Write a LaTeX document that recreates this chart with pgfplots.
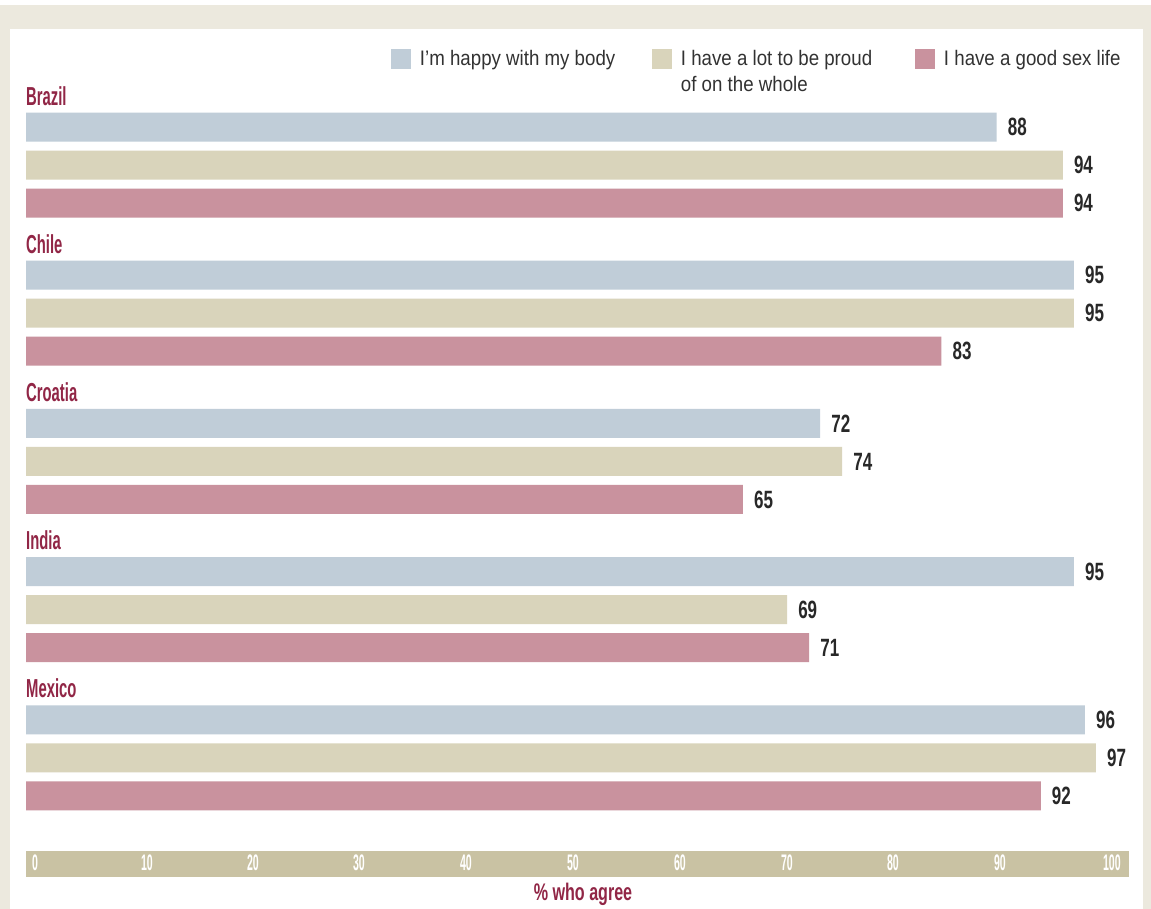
\documentclass[border=0pt]{standalone}
\usepackage{pgfplots}
\pgfplotsset{compat=1.18}
\usepackage{fontspec}
\setmainfont{Liberation Sans}
\newfontfamily\legfont[FakeStretch=0.89]{Liberation Sans}
\newfontfamily\condfont[FakeStretch=0.57]{Liberation Sans}
\newfontfamily\numfont[FakeStretch=0.68]{Liberation Sans}
\newfontfamily\tickfont[FakeStretch=0.47]{Liberation Sans}
\newfontfamily\labfont[FakeStretch=0.67]{Liberation Sans}

\definecolor{framebg}{RGB}{236,233,222}
\definecolor{barblue}{RGB}{192,205,216}
\definecolor{barbeige}{RGB}{217,212,187}
\definecolor{barpink}{RGB}{201,146,158}
\definecolor{stripc}{RGB}{201,194,163}
\definecolor{darkred}{RGB}{145,38,70}
\definecolor{numgray}{RGB}{40,40,40}
\definecolor{leggray}{RGB}{50,50,50}

\begin{document}
\begin{tikzpicture}
% frame and panel
\fill[white] (0pt,0pt) rectangle (1151pt,909pt);
\fill[framebg] (0pt,0pt) rectangle (1151pt,904pt);
\fill[white] (10pt,0pt) rectangle (1143pt,880pt);
\fill[stripc] (26pt,32pt) rectangle (1129pt,58pt);
\begin{axis}[
    at={(26pt,59pt)}, anchor=south west,
    scale only axis, width=1103pt, height=760pt,
    xmin=0, xmax=100,
    ymin=-0.974, ymax=19.026,
    y dir=reverse,
    clip=false,
    axis line style={draw=none},
    major tick length=0pt,
    tick style={draw=none},
    /pgf/number format/assume math mode=true,
    xbar, bar width=29pt, bar shift=0pt,
    xtick={0.82,10.97,20.58,30.19,39.89,49.59,59.29,68.99,78.6,88.3,98.45},
    xticklabels={0,10,20,30,40,50,60,70,80,90,100},
    xticklabel style={anchor=base, inner sep=0pt, yshift=-20pt, text=white,
        font=\tickfont\bfseries\fontsize{22.5}{22.5}\selectfont},
    ytick={-0.579,3.321,7.221,11.121,15.021},
    yticklabels={Brazil,Chile,Croatia,India,Mexico},
    yticklabel style={anchor=base west, inner sep=0pt, text=darkred,
        font=\condfont\bfseries\fontsize{26}{26}\selectfont},
    xlabel={\% who agree},
    xlabel style={at={(axis cs:50.5,19.026)}, anchor=base, inner sep=0pt, yshift=-50pt,
        text=darkred, font=\labfont\bfseries\fontsize{24}{24}\selectfont},
    nodes near coords,
    nodes near coords align={horizontal},
    every node near coord/.append style={anchor=west, inner sep=0pt, xshift=11pt,
        text=numgray, font=\numfont\bfseries\fontsize{25}{25}\selectfont},
    legend image code/.code={\fill[#1] (0pt,-10.6pt) rectangle (20pt,9.4pt);},
    legend style={draw=none, fill=none, at={(axis cs:33.09,-2.053)}, anchor=north west,
        legend columns=3, inner sep=0pt, outer sep=0pt, column sep=0pt, row sep=0pt,
        nodes={inner sep=0pt, text=leggray, font=\legfont\fontsize{21}{26}\selectfont},
        /tikz/every odd column/.append style={column sep=9pt}},
]
\addplot[fill=barblue, draw=none] coordinates {
    (88,0) (95,3.9) (72,7.8) (95,11.7) (96,15.6)
};
\addlegendentry{\parbox[t]{232pt}{I’m happy with my body}}
\addplot[fill=barbeige, draw=none] coordinates {
    (94,1) (95,4.9) (74,8.8) (69,12.7) (97,16.6)
};
\addlegendentry{\parbox[t]{234pt}{I have a lot to be proud\\of on the whole}}
\addplot[fill=barpink, draw=none] coordinates {
    (94,2) (83,5.9) (65,9.8) (71,13.7) (92,17.6)
};
\addlegendentry{\parbox[t]{180pt}{I have a good sex life}}
\end{axis}
\end{tikzpicture}
\end{document}
